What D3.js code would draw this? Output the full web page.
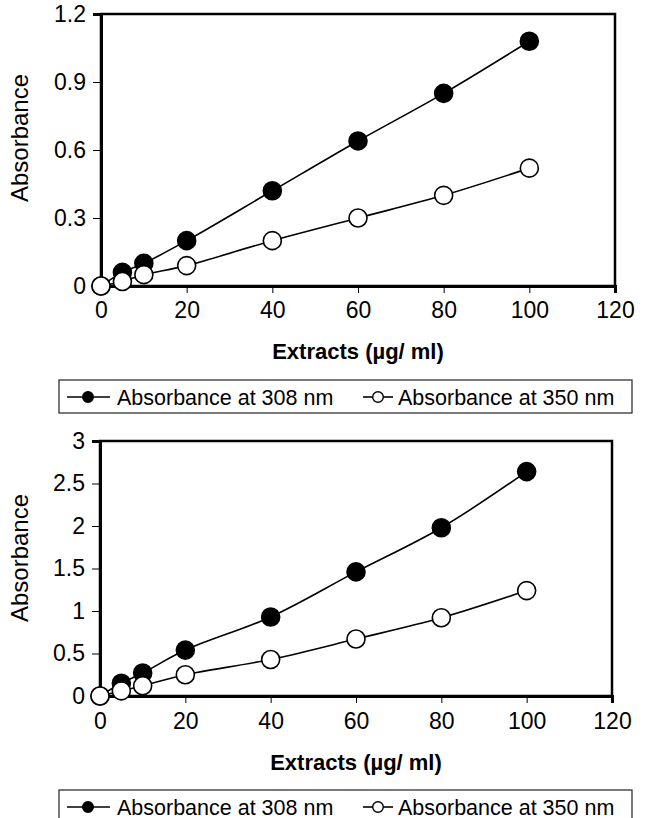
<!DOCTYPE html>
<html>
<head>
<meta charset="utf-8">
<script src="https://cdn.jsdelivr.net/npm/d3@7"></script>
<style>
  body { margin: 0; background: #fff; }
  svg text { font-family: "Liberation Sans", Arial, sans-serif; fill: #000; }
</style>
</head>
<body>
<svg id="chart"></svg>
<script>
// concentrations of extract (µg/ml)
const conc = [0, 5, 10, 20, 40, 60, 80, 100]

// upper panel
const topAbs308 = [0, 0.06, 0.10, 0.20, 0.42, 0.64, 0.85, 1.08]
const topAbs350 = [0, 0.02, 0.05, 0.09, 0.20, 0.30, 0.40, 0.52]
const topYTicks = [0, 0.3, 0.6, 0.9, 1.2]

// lower panel
const botAbs308 = [0, 0.15, 0.27, 0.54, 0.93, 1.46, 1.98, 2.64]
const botAbs350 = [0, 0.06, 0.12, 0.25, 0.43, 0.67, 0.92, 1.24]
const botYTicks = [0, 0.5, 1, 1.5, 2, 2.5, 3]

const xTicks = [0, 20, 40, 60, 80, 100, 120]
const legendLabels = ["Absorbance at 308 nm", "Absorbance at 350 nm"]
const xTitle = "Extracts (\u00b5g/ ml)"
const yTitle = "Absorbance"

const svg = d3.select("#chart")
    .attr("width", 652)
    .attr("height", 818)

const drawPanel = (p) => {
    const x = d3.scaleLinear().domain([0, 120]).range([p.left, p.right])
    const y = d3.scaleLinear().domain([0, p.yMax]).range([p.bottom, p.top])
    const g = svg.append("g")

    // frame
    g.append("rect")
        .attr("x", p.left).attr("y", p.top)
        .attr("width", p.right - p.left).attr("height", p.bottom - p.top)
        .attr("fill", "none").attr("stroke", "#000").attr("stroke-width", 2.5)

    const yAxis = g.append("g")
        .attr("transform", `translate(${p.left},0)`)
        .call(d3.axisLeft(y).tickValues(p.yTicks).tickFormat(d => String(d))
            .tickSize(8).tickPadding(7))
    const xAxis = g.append("g")
        .attr("transform", `translate(0,${p.bottom})`)
        .call(d3.axisBottom(x).tickValues(xTicks).tickFormat(d => String(d))
            .tickSize(7).tickPadding(p.xPad))

    ;[yAxis, xAxis].forEach(a => {
        a.select(".domain").attr("stroke-width", 3).attr("stroke", "#000")
        a.selectAll(".tick line").attr("stroke", "#000").attr("stroke-width", 1)
        a.selectAll(".tick text").attr("font-size", 23)
            .attr("font-family", "Liberation Sans, Arial, sans-serif")
    })

    g.append("text")
        .attr("transform", `translate(28,${p.yTitleY}) rotate(-90)`)
        .attr("text-anchor", "middle")
        .attr("font-size", 24)
        .text(yTitle)

    g.append("text")
        .attr("x", (p.left + p.right) / 2)
        .attr("y", p.xTitleY)
        .attr("text-anchor", "middle")
        .attr("font-size", 22)
        .attr("font-weight", "bold")
        .text(xTitle)

    const line = d3.line()
        .x((d, i) => x(conc[i]))
        .y(d => y(d))
        .curve(d3.curveCatmullRom)

    const series = [
        { values: p.s308, fill: "#000" },
        { values: p.s350, fill: "#fff" }
    ]

    series.forEach(s => {
        g.append("path")
            .attr("d", line(s.values))
            .attr("fill", "none")
            .attr("stroke", "#000")
            .attr("stroke-width", 1.6)
    })
    series.forEach(s => {
        g.selectAll(null)
            .data(s.values)
            .enter()
            .append("circle")
            .attr("cx", (d, i) => x(conc[i]))
            .attr("cy", d => y(d))
            .attr("r", 9)
            .attr("fill", s.fill)
            .attr("stroke", "#000")
            .attr("stroke-width", 1.6)
    })

    // legend
    const lg = svg.append("g")
    lg.append("rect")
        .attr("x", 59).attr("y", p.legendTop)
        .attr("width", 573).attr("height", 33)
        .attr("fill", "none").attr("stroke", "#333").attr("stroke-width", 1.3)
    const cy = p.legendTop + 17
    const items = [
        { x1: 67, x2: 110, cx: 88, tx: 117, fill: "#000" },
        { x1: 363, x2: 393, cx: 378, tx: 398, fill: "#fff" }
    ]
    items.forEach((it, i) => {
        lg.append("line")
            .attr("x1", it.x1).attr("x2", it.x2)
            .attr("y1", cy).attr("y2", cy)
            .attr("stroke", "#000").attr("stroke-width", 1.6)
        lg.append("circle")
            .attr("cx", it.cx).attr("cy", cy).attr("r", 5.3)
            .attr("fill", it.fill).attr("stroke", "#000").attr("stroke-width", 1.4)
        lg.append("text")
            .attr("x", it.tx).attr("y", cy + 7.5)
            .attr("font-size", 21.5)
            .text(legendLabels[i])
    })
}

drawPanel({
    left: 101, right: 615, top: 14, bottom: 286,
    yMax: 1.2, yTicks: topYTicks, s308: topAbs308, s350: topAbs350,
    xPad: 9, yTitleY: 138, xTitleY: 359, legendTop: 380
})

drawPanel({
    left: 100, right: 612, top: 441, bottom: 696,
    yMax: 3, yTicks: botYTicks, s308: botAbs308, s350: botAbs350,
    xPad: 10, yTitleY: 558, xTitleY: 770, legendTop: 790
})
</script>
</body>
</html>
